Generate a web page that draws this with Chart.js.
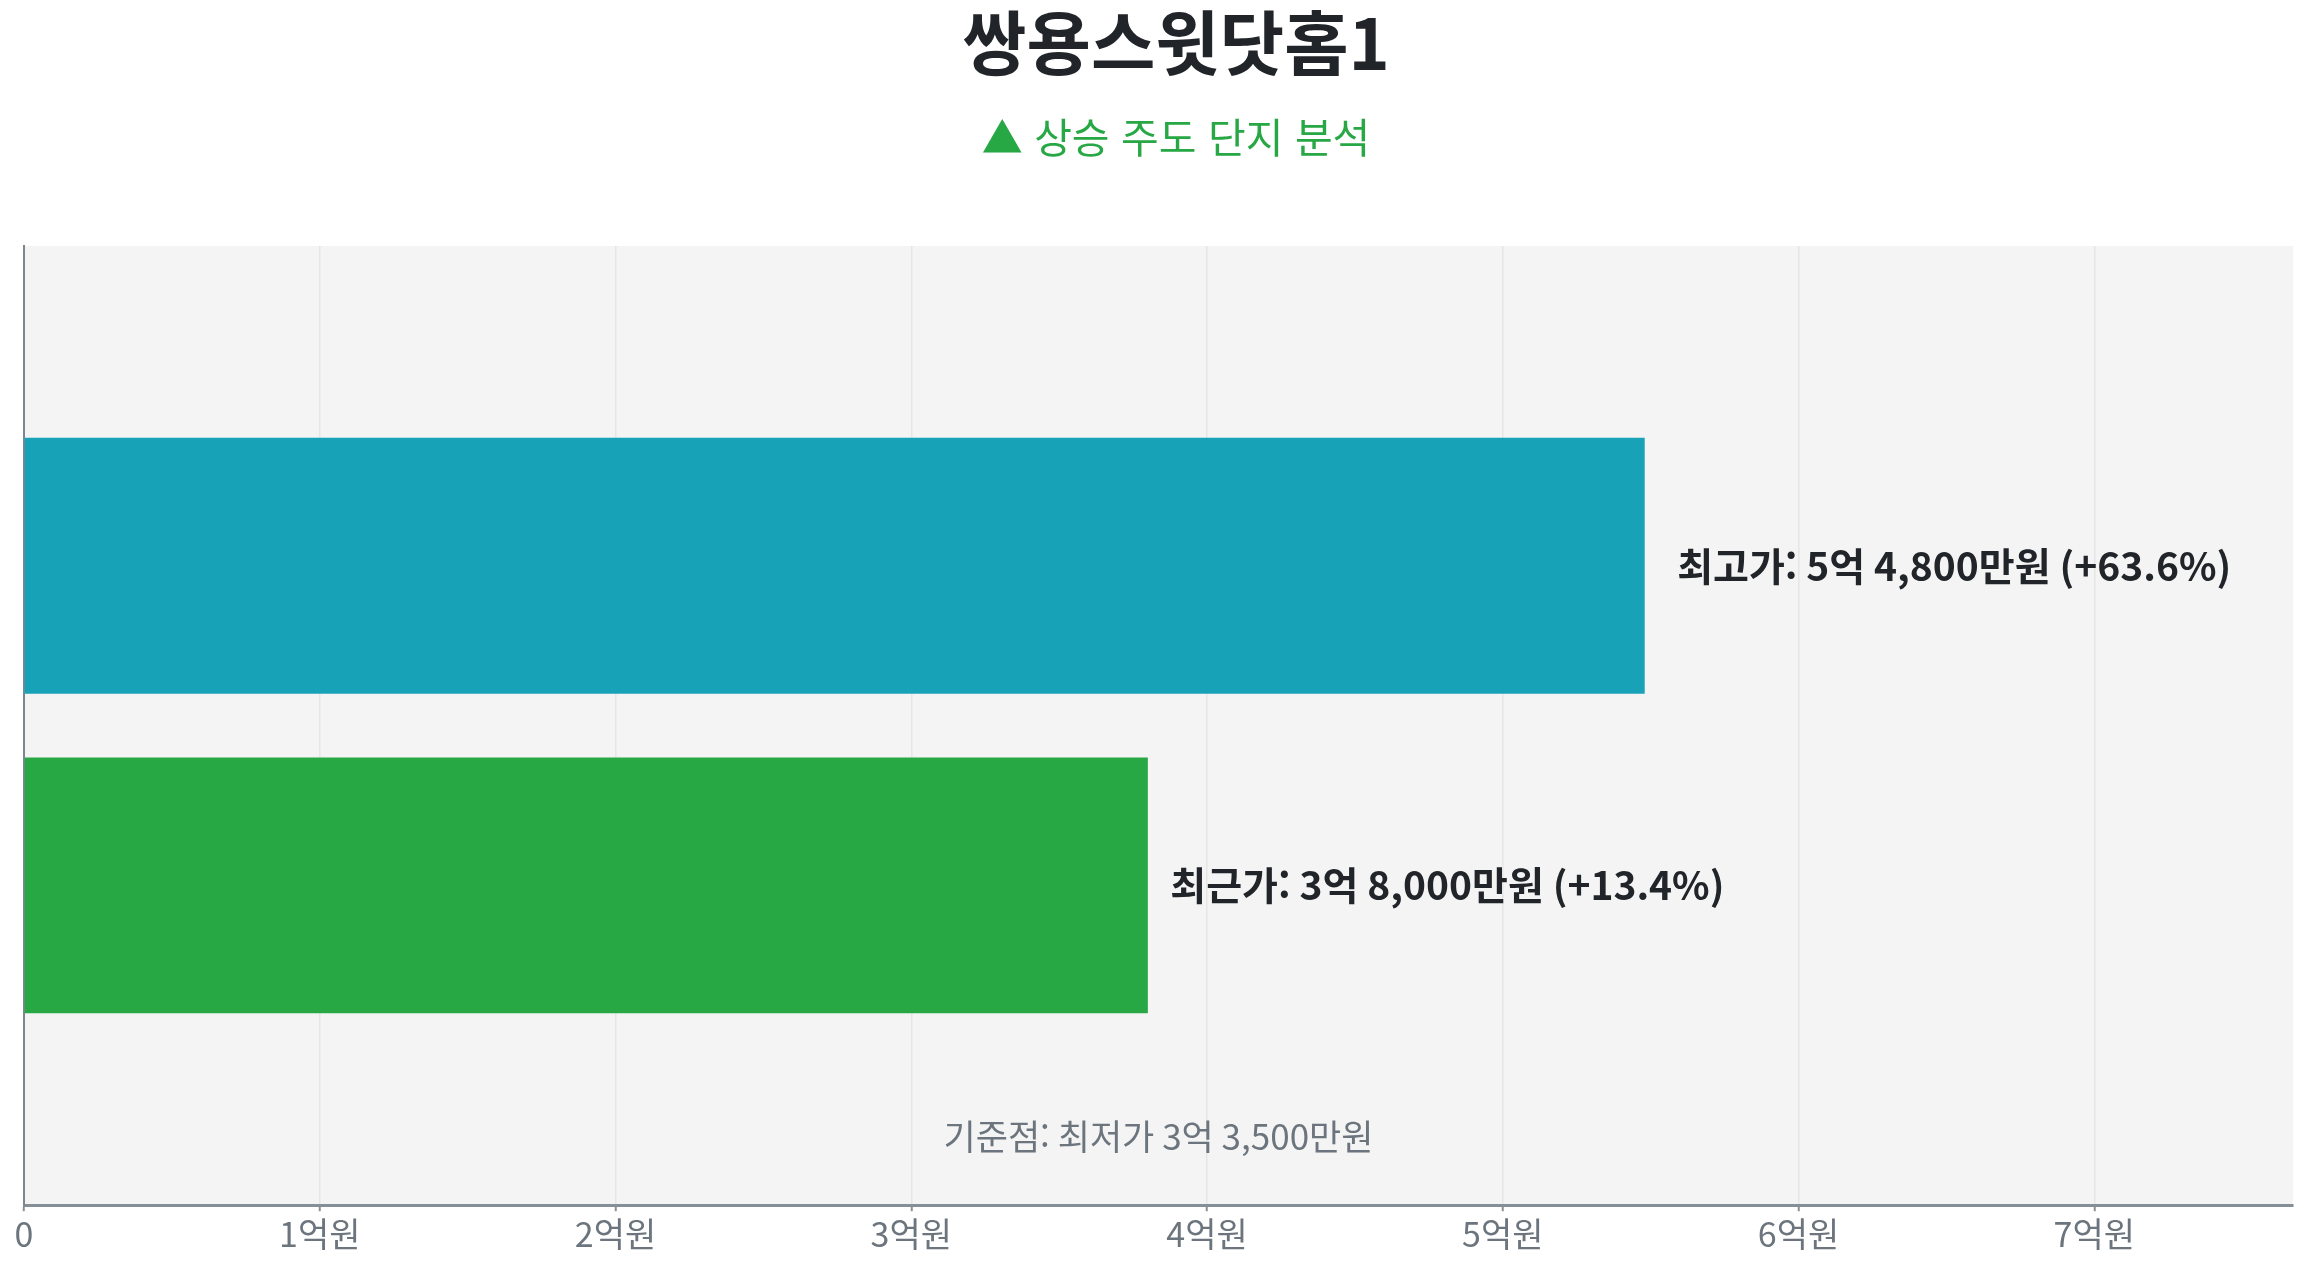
<!DOCTYPE html>
<html lang="ko">
<head>
<meta charset="utf-8">
<title>쌍용스윗닷홈1</title>
<script src="https://cdn.jsdelivr.net/npm/chart.js@4.4.1/dist/chart.umd.min.js"></script>
<style>
  html, body { margin: 0; padding: 0; background: #fff; }
  body { width: 2308px; height: 1268px; position: relative; overflow: hidden;
         font-family: "Noto Sans CJK KR", "Noto Sans", sans-serif; }
  #wrap { position: absolute; left: 0; top: 0; width: 2308px; height: 1268px; }
  .head { position: absolute; left: 44px; width: 2264px; text-align: center; }
  #title { top: -4px; font-size: 70px; line-height: 88px; font-weight: 700; color: #212529; }
  #subtitle { top: 111px; font-size: 41px; line-height: 48px; color: #28a745; }
</style>
</head>
<body>
<div id="wrap"><canvas id="chart"></canvas></div>
<div class="head" id="title">쌍용스윗닷홈1</div>
<div class="head" id="subtitle">▲ 상승 주도 단지 분석</div>
<script>
// Podaci (iz slike)
const kategorije = ['', '최고가', '최근가', ''];
const cijene = [null, 548000000, 380000000, null];
const boje = ['#17a2b8', '#17a2b8', '#28a745', '#28a745'];
const najnizaCijena = 335000000; // 기준점: 최저가
const oznakeOsi = [0, 100000000, 200000000, 300000000, 400000000, 500000000, 600000000, 700000000];
const korakOsi = 100000000; // 1억

// Format: 5억 4,800만원
function formatWon(v) {
    const eok = Math.floor(v / 100000000);
    const man = Math.round((v % 100000000) / 10000);
    let s = '';
    if (eok > 0) s += eok + '억';
    if (man > 0) s += (s ? ' ' : '') + man.toLocaleString('ko-KR') + '만';
    return s + '원';
}

function postotak(v) {
    const p = (v - najnizaCijena) / najnizaCijena * 100;
    return (p >= 0 ? '+' : '') + p.toFixed(1) + '%';
}

// Pozadina područja grafa
const pozadina = {
    id: 'pozadina',
    beforeDraw(chart) {
        const { ctx, chartArea: a } = chart;
        ctx.save();
        ctx.fillStyle = '#f4f4f4';
        ctx.fillRect(a.left, a.top, a.right - a.left, a.bottom - a.top);
        ctx.restore();
    }
};

// Oznake uz stupce i tekst referentne točke
const oznake = {
    id: 'oznake',
    afterDatasetsDraw(chart) {
        const { ctx, chartArea: a } = chart;
        const x = chart.scales.x;
        const meta = chart.getDatasetMeta(0);
        ctx.save();
        ctx.textBaseline = 'middle';
        ctx.textAlign = 'left';
        ctx.fillStyle = '#212529';
        ctx.font = 'bold 39px "Noto Sans CJK KR", sans-serif';
        meta.data.forEach((bar, i) => {
            const v = cijene[i];
            if (v == null) return;
            const tekst = kategorije[i] + ': ' + formatWon(v) + ' (' + postotak(v) + ')';
            ctx.fillText(tekst, x.getPixelForValue(v * 1.02), bar.y);
        });
        ctx.textAlign = 'center';
        ctx.fillStyle = '#6c757d';
        ctx.font = '35px "Noto Sans CJK KR", sans-serif';
        ctx.fillText('기준점: 최저가 ' + formatWon(najnizaCijena), (a.left + a.right) / 2, a.bottom - 68);
        ctx.restore();
    }
};

const ctx = document.getElementById('chart').getContext('2d');
const graf = new Chart(ctx, {
    type: 'bar',
    data: {
        labels: kategorije,
        datasets: [{
            data: cijene,
            backgroundColor: boje,
            borderWidth: 0,
            categoryPercentage: 1,
            barPercentage: 0.8
        }]
    },
    options: {
        indexAxis: 'y',
        responsive: true,
        maintainAspectRatio: false,
        animation: false,
        layout: { padding: { top: 246, left: 24, right: 15, bottom: 12 } },
        plugins: {
            legend: { display: false },
            tooltip: { enabled: false }
        },
        scales: {
            x: {
                min: 0,
                max: Math.max(...cijene.filter(v => v != null)) * 1.4,
                afterBuildTicks: os => { os.ticks = oznakeOsi.map(v => ({ value: v })); },
                grid: {
                    color: '#e6e6e6',
                    lineWidth: 1.5,
                    tickColor: '#868e96',
                    tickWidth: 2,
                    tickLength: 6
                },
                border: { color: '#868e96', width: 3 },
                ticks: {
                    padding: 2,
                    color: '#6c757d',
                    font: { family: '"Noto Sans CJK KR", sans-serif', size: 34 },
                    callback: v => v === 0 ? '0' : (v / korakOsi) + '억원'
                }
            },
            y: {
                offset: false,
                grid: { display: false, drawTicks: false },
                border: { color: '#7d8591', width: 2 },
                ticks: { display: false }
            }
        }
    },
    plugins: [pozadina, oznake]
});
</script>
</body>
</html>
